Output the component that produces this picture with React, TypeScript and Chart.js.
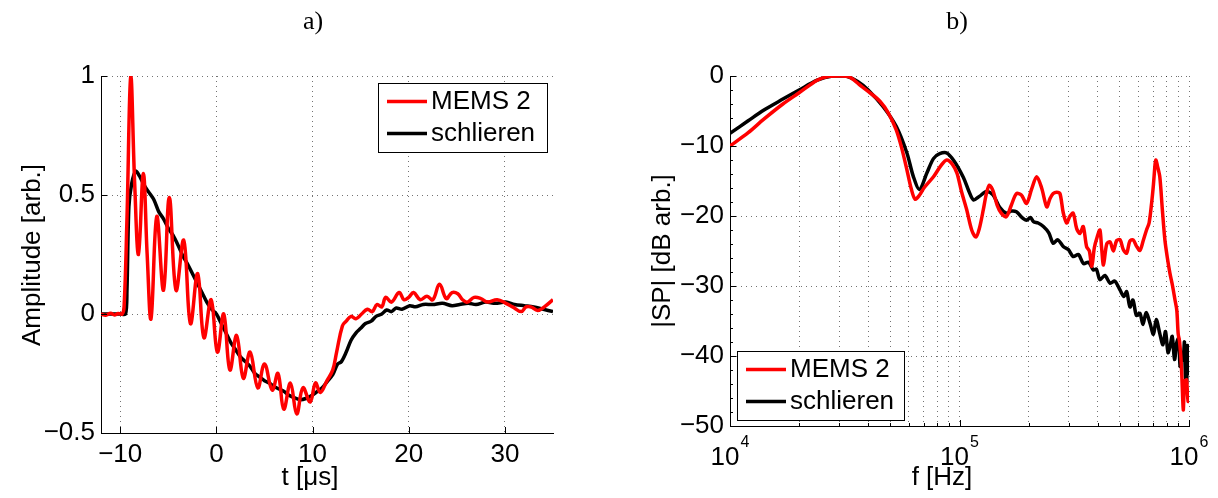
import React, { useEffect, useRef } from 'react';
import { Chart, registerables } from 'chart.js';

Chart.register(...registerables);

// ---------- data (left: time signal) ----------
const timeTicks = [-10, 0, 10, 20, 30];
const ampTicks = [-0.5, 0, 0.5, 1];
const seriesLabels = ['MEMS 2', 'schlieren'];
const seriesColors = ['#ff0000', '#000000'];

const memsT = [-12, -11.5, -11, -10.6, -10.2, -9.8, -9.6, -9.3, -8.9, -8.5, -8.1, -7.6, -7.2, -6.8, -6.2, -5.5, -4.9, -4.2, -3.4, -2.7, -1.95, -1.3, -0.55, 0.1, 0.76, 1.4, 2.1, 2.8, 3.5, 4.3, 5.0, 5.8, 6.4, 7.0, 7.7, 8.35, 9.0, 9.75, 10.3, 10.8, 11.5, 12.1, 12.5, 13.1, 13.5, 14.0, 14.5, 15.1, 15.7, 16.2, 16.7, 17.2, 17.6, 18.2, 19.0, 19.5, 20.0, 20.5, 21.2, 21.9, 22.5, 23.2, 23.9, 24.5, 25.1, 25.6, 26.1, 26.8, 27.5, 28.2, 29.2, 30.1, 30.8, 31.7, 32.2, 32.7, 33.4, 34.1, 35.0];
const memsA = [0, -0.005, 0.003, -0.004, 0.002, 0.0, 0.03, 0.4, 1.0, 0.55, 0.25, 0.59, 0.25, -0.02, 0.41, 0.1, 0.49, 0.1, 0.31, -0.04, 0.17, -0.1, 0.06, -0.16, 0.0, -0.235, -0.09, -0.27, -0.16, -0.31, -0.21, -0.32, -0.25, -0.4, -0.29, -0.42, -0.31, -0.37, -0.29, -0.33, -0.28, -0.235, -0.16, -0.05, -0.03, -0.01, -0.02, 0.0, 0.02, 0.01, 0.04, 0.03, 0.07, 0.05, 0.09, 0.06, 0.07, 0.09, 0.06, 0.075, 0.06, 0.125, 0.065, 0.09, 0.085, 0.06, 0.05, 0.07, 0.065, 0.05, 0.06, 0.045, 0.03, 0.01, 0.03, 0.03, 0.015, 0.03, 0.06];

const schT = [-12, -11, -10, -9.45, -9.3, -9.1, -8.8, -8.4, -8.0, -7.5, -7.0, -6.5, -6.0, -5.5, -5.0, -4.5, -4.0, -3.5, -3.0, -2.5, -2.0, -1.5, -1.0, -0.5, 0, 0.5, 1.0, 1.5, 2.0, 2.5, 3.0, 3.5, 4.0, 4.5, 5.0, 5.5, 6.0, 6.5, 7.0, 7.5, 8.0, 8.7, 9.3, 10.0, 10.5, 11.0, 11.5, 12.1, 12.6, 13.0, 13.5, 14.0, 14.5, 15.0, 15.5, 16.1, 16.6, 17.2, 17.7, 18.2, 18.7, 19.3, 20.1, 20.7, 21.5, 22.5, 23.5, 24.5, 25.3, 26.2, 27.0, 28.0, 29.0, 30.1, 31.0, 32.0, 33.0, 34.0, 35.0];
const schA = [0, 0, 0, 0, 0.1, 0.45, 0.55, 0.6, 0.58, 0.54, 0.51, 0.48, 0.43, 0.4, 0.36, 0.33, 0.29, 0.245, 0.21, 0.17, 0.13, 0.09, 0.05, 0.02, 0.0, -0.04, -0.08, -0.12, -0.15, -0.18, -0.2, -0.22, -0.25, -0.265, -0.28, -0.29, -0.305, -0.315, -0.325, -0.34, -0.35, -0.36, -0.355, -0.34, -0.325, -0.31, -0.285, -0.255, -0.21, -0.2, -0.16, -0.11, -0.08, -0.06, -0.04, -0.03, -0.01, 0.0, 0.017, 0.01, 0.025, 0.02, 0.035, 0.03, 0.04, 0.04, 0.045, 0.035, 0.04, 0.045, 0.04, 0.05, 0.045, 0.05, 0.04, 0.035, 0.03, 0.02, 0.01];

// ---------- data (right: spectrum) ----------
const freqTicks = [1e4, 1e5, 1e6];
const freqMinor = [2e4, 3e4, 4e4, 5e4, 6e4, 7e4, 8e4, 9e4, 2e5, 3e5, 4e5, 5e5, 6e5, 7e5, 8e5, 9e5];
const dbTicks = [-50, -40, -30, -20, -10, 0];

const memsF = [10000, 12000, 14000, 17000, 20000, 24000, 27000, 30000, 33000, 36500, 40000, 45000, 49000, 53000, 56000, 59000, 61500, 64000, 67000, 70000, 77000, 83000, 88000, 93000, 97500, 102000, 107500, 113000, 118000, 122000, 127000, 131000, 135000, 140000, 146000, 152000, 160000, 168000, 177000, 186000, 196000, 206000, 217000, 228000, 240000, 248000, 256000, 265000, 274000, 283000, 293000, 303000, 313000, 324000, 335000, 346000, 358000, 368000, 377000, 387000, 398000, 409000, 416000, 424000, 438000, 453000, 468000, 484000, 501000, 517000, 535000, 552000, 571000, 590000, 611000, 632000, 653000, 670000, 687000, 700000, 712000, 718000, 728000, 746000, 765000, 785000, 805000, 826000, 848000, 869000, 885000, 897000, 910000, 925000, 935000, 944000, 952000, 960000, 970000, 977000, 985000, 992000, 1000000];
const memsDb = [-10, -8.1, -6.2, -4.0, -2.4, -0.6, -0.05, 0, -0.1, -1.2, -2.2, -3.6, -5.3, -7.7, -10.3, -13.4, -16.0, -17.6, -17.0, -16.0, -14.4, -12.8, -12.0, -12.6, -13.9, -16.5, -19.1, -22.0, -23.0, -21.8, -19.1, -16.8, -15.6, -16.4, -18.5, -19.6, -20.1, -18.5, -16.8, -17.0, -18.2, -16.2, -14.4, -16.0, -18.7, -17.5, -16.8, -16.6, -16.8, -19.5, -21.0, -20.0, -19.6, -21.8, -22.5, -21.5, -24.4, -25.0, -27.2, -24.5, -23.0, -22.0, -24.5, -27.0, -24.0, -23.7, -25.0, -23.5, -23.4, -24.8, -25.3, -23.6, -23.4, -24.3, -24.9, -23.5, -22.0, -21.0, -18.2, -15.5, -12.5, -12.0, -12.8, -14.4, -19.0, -23.4, -26.0, -28.2, -30.0, -32.0, -33.5, -36.8, -38.0, -41.0, -44.5, -47.7, -45.0, -43.5, -44.0, -43.4, -45.5, -46.5, -45.3];

const schF = [10000, 12000, 14000, 17000, 20000, 24000, 28000, 32000, 36000, 40000, 46500, 53000, 59000, 63000, 67000, 72000, 77000, 82000, 88000, 95000, 104000, 110000, 115000, 122000, 131000, 140000, 150000, 160000, 168000, 177000, 187000, 196000, 204000, 210000, 220000, 232000, 245000, 256000, 268000, 284000, 298000, 313000, 330000, 347000, 365000, 383000, 395000, 409000, 430000, 453000, 475000, 501000, 520000, 535000, 553000, 570000, 590000, 611000, 630000, 650000, 676000, 700000, 720000, 746000, 770000, 790000, 810000, 826000, 845000, 865000, 883000, 900000, 915000, 930000, 944000, 955000, 965000, 977000, 985000, 992000, 1000000];
const schDb = [-8.2, -6.4, -4.9, -3.3, -2.0, -0.6, 0, 0, -0.8, -2.0, -4.4, -7.2, -11, -14.4, -16.2, -13.9, -11.8, -11.1, -11.0, -12.2, -14.5, -16.5, -17.7, -17.2, -16.5, -17.0, -18.8, -19.6, -19.3, -19.4, -20.2, -20.6, -20.2, -20.8, -21.0, -21.5, -22.4, -23.9, -23.4, -24.4, -24.8, -25.8, -25.5, -26.8, -26.6, -27.7, -27.6, -29.1, -28.5, -29.6, -29.3, -30.6, -31.5, -30.8, -33.0, -32.0, -34.2, -33.9, -35.5, -33.8, -35.3, -36.9, -34.8, -36.8, -38.4, -36.5, -39.5, -38.7, -37.2, -40.5, -38.2, -37.5, -41.5, -39.5, -40.6, -38.0, -43.0, -43.9, -38.5, -42.5, -39.6];

// ---------- helpers ----------
const FONT = '"Liberation Sans", Arial, sans-serif';
const minusFmt = (v: number) => (v < 0 ? '\u2212' + String(Math.abs(v)) : String(v));
const zip = (xs: number[], ys: number[]) => xs.map((x, i) => ({ x, y: ys[i] }));

const decoPlugin = {
  id: 'deco',
  afterDraw(chart: any, _args: any, o: any) {
    const ctx = chart.ctx;
    const ca = chart.chartArea;
    const xs = chart.scales.x;
    const ys = chart.scales.y;
    ctx.save();
    ctx.strokeStyle = '#000';
    ctx.lineWidth = 1;
    const seg = (x1: number, y1: number, x2: number, y2: number) => {
      ctx.beginPath();
      ctx.moveTo(x1, y1);
      ctx.lineTo(x2, y2);
      ctx.stroke();
    };
    for (const v of o.xMajor) {
      const p = Math.round(xs.getPixelForValue(v)) + 0.5;
      seg(p, ca.bottom, p, ca.bottom - 6);
    }
    for (const v of o.xMinor) {
      const p = Math.round(xs.getPixelForValue(v)) + 0.5;
      seg(p, ca.bottom, p, ca.bottom - 3);
    }
    for (const v of o.yMajor) {
      const p = Math.round(ys.getPixelForValue(v)) + 0.5;
      seg(ca.left, p, ca.left + 6, p);
    }
    for (const v of o.yMinor) {
      const p = Math.round(ys.getPixelForValue(v)) + 0.5;
      seg(ca.left, p, ca.left + 3, p);
    }
    ctx.fillStyle = '#000';
    if (o.powerLabels) {
      for (const v of o.xMajor) {
        const p = xs.getPixelForValue(v);
        const e = String(Math.round(Math.log10(v)));
        ctx.font = '26px ' + FONT;
        const wb = ctx.measureText('10').width;
        ctx.font = '16px ' + FONT;
        const we = ctx.measureText(e).width;
        const x0 = p - (wb + we + 1) / 2;
        ctx.textAlign = 'left';
        ctx.textBaseline = 'alphabetic';
        ctx.font = '26px ' + FONT;
        ctx.fillText('10', x0, 465);
        ctx.font = '16px ' + FONT;
        ctx.fillText(e, x0 + wb + 1, 447);
      }
    }
    ctx.textAlign = 'center';
    ctx.textBaseline = 'middle';
    ctx.font = '26px ' + FONT;
    ctx.fillText(o.xLabel, o.xLabelX, o.xLabelY);
    ctx.save();
    ctx.translate(o.yLabelX, o.yLabelY);
    ctx.rotate(-Math.PI / 2);
    ctx.fillText(o.yLabel, 0, 0);
    ctx.restore();
    ctx.font = '26px "Liberation Serif", serif';
    ctx.fillText(o.title, o.titleX, o.titleY);
    // legend box
    const L = o.legend;
    ctx.fillStyle = '#fff';
    ctx.fillRect(L.x, L.y, L.w, L.h);
    ctx.strokeStyle = '#000';
    ctx.lineWidth = 1;
    ctx.strokeRect(L.x + 0.5, L.y + 0.5, L.w - 1, L.h - 1);
    ctx.font = '26px ' + FONT;
    ctx.textAlign = 'left';
    chart.data.datasets.forEach((ds: any, i: number) => {
      const yy = L.y + L.row0 + i * L.rowGap;
      ctx.strokeStyle = ds.borderColor;
      ctx.lineWidth = 3.5;
      seg(L.x + 9, yy, L.x + 49, yy);
      ctx.fillStyle = '#000';
      ctx.fillText(ds.label, L.x + 53, yy);
    });
    ctx.restore();
  },
};

const gridCommon = {
  color: 'rgba(0,0,0,0.55)',
  lineWidth: 1,
  drawTicks: false,
};
const borderCommon = { display: true, color: '#000', width: 1, dash: [1, 4] };
const tickFont = { family: FONT, size: 26 };

function leftConfig(): any {
  return {
    type: 'line',
    data: {
      datasets: [
        { label: seriesLabels[0], data: zip(memsT, memsA), borderColor: seriesColors[0], borderWidth: 3.5, pointRadius: 0, tension: 0.4, fill: false },
        { label: seriesLabels[1], data: zip(schT, schA), borderColor: seriesColors[1], borderWidth: 3.5, pointRadius: 0, tension: 0.3, fill: false },
      ],
    },
    options: {
      animation: false,
      responsive: false,
      maintainAspectRatio: false,
      layout: { padding: { top: 76, right: 56, left: 0, bottom: 0 } },
      plugins: {
        legend: { display: false },
        tooltip: { enabled: false },
        deco: {
          xMajor: timeTicks,
          xMinor: [],
          yMajor: ampTicks,
          yMinor: [],
          xLabel: 't [\u03bcs]', xLabelX: 310, xLabelY: 478,
          yLabel: 'Amplitude [arb.]', yLabelX: 33, yLabelY: 255,
          title: 'a)', titleX: 313, titleY: 22,
          legend: { x: 378, y: 83, w: 170, h: 70, row0: 18.5, rowGap: 32 },
        },
      },
      scales: {
        x: {
          type: 'linear', min: -12, max: 35,
          afterBuildTicks: (s: any) => { s.ticks = timeTicks.map((v) => ({ value: v })); },
          afterFit: (s: any) => { s.height = 65; },
          grid: gridCommon,
          border: borderCommon,
          ticks: { font: tickFont, color: '#000', padding: 6, maxRotation: 0, callback: (v: number) => minusFmt(v) },
        },
        y: {
          type: 'linear', min: -0.5, max: 1,
          afterBuildTicks: (s: any) => { s.ticks = ampTicks.map((v) => ({ value: v })); },
          afterFit: (s: any) => { s.width = 101; },
          grid: gridCommon,
          border: borderCommon,
          ticks: { font: tickFont, color: '#000', padding: 6, callback: (v: number) => minusFmt(v) },
        },
      },
    },
    plugins: [decoPlugin],
  };
}

function rightConfig(): any {
  const allFreq = [...freqTicks, ...freqMinor].sort((a, b) => a - b);
  return {
    type: 'line',
    data: {
      datasets: [
        { label: seriesLabels[0], data: zip(memsF, memsDb), borderColor: seriesColors[0], borderWidth: 3.5, pointRadius: 0, tension: 0.3, fill: false },
        { label: seriesLabels[1], data: zip(schF, schDb), borderColor: seriesColors[1], borderWidth: 3.5, pointRadius: 0, tension: 0.3, fill: false },
      ],
    },
    options: {
      animation: false,
      responsive: false,
      maintainAspectRatio: false,
      layout: { padding: { top: 76, right: 29, left: 0, bottom: 0 } },
      plugins: {
        legend: { display: false },
        tooltip: { enabled: false },
        deco: {
          xMajor: freqTicks,
          xMinor: freqMinor,
          yMajor: dbTicks,
          yMinor: [-48, -46, -44, -42, -38, -36, -34, -32, -28, -26, -24, -22, -18, -16, -14, -12, -8, -6, -4, -2],
          powerLabels: true,
          xLabel: 'f [Hz]', xLabelX: 942 - 609, xLabelY: 478,
          yLabel: '|SP| [dB arb.]', yLabelX: 663 - 609, yLabelY: 251,
          title: 'b)', titleX: 957 - 609, titleY: 22,
          legend: { x: 737 - 609, y: 351, w: 168, h: 70, row0: 18.5, rowGap: 32 },
        },
      },
      scales: {
        x: {
          type: 'logarithmic', min: 1e4, max: 1e6,
          afterBuildTicks: (s: any) => { s.ticks = allFreq.map((v) => ({ value: v })); },
          afterFit: (s: any) => { s.height = 72; },
          grid: gridCommon,
          border: borderCommon,
          ticks: { display: false },
        },
        y: {
          type: 'linear', min: -50, max: 0,
          afterBuildTicks: (s: any) => { s.ticks = dbTicks.map((v) => ({ value: v })); },
          afterFit: (s: any) => { s.width = 121; },
          grid: gridCommon,
          border: borderCommon,
          ticks: { font: tickFont, color: '#000', padding: 6, callback: (v: number) => minusFmt(v) },
        },
      },
    },
    plugins: [decoPlugin],
  };
}

export default function App() {
  const leftRef = useRef<HTMLCanvasElement | null>(null);
  const rightRef = useRef<HTMLCanvasElement | null>(null);

  useEffect(() => {
    const c1 = new Chart(leftRef.current as HTMLCanvasElement, leftConfig());
    const c2 = new Chart(rightRef.current as HTMLCanvasElement, rightConfig());
    return () => {
      c1.destroy();
      c2.destroy();
    };
  }, []);

  return (
    <div style={{ position: 'fixed', left: 0, top: 0, width: 1218, height: 498, background: '#fff', overflow: 'hidden' }}>
      <canvas ref={leftRef} width={609} height={498} style={{ position: 'absolute', left: 0, top: 0, width: 609, height: 498 }} />
      <canvas ref={rightRef} width={609} height={498} style={{ position: 'absolute', left: 609, top: 0, width: 609, height: 498 }} />
    </div>
  );
}
